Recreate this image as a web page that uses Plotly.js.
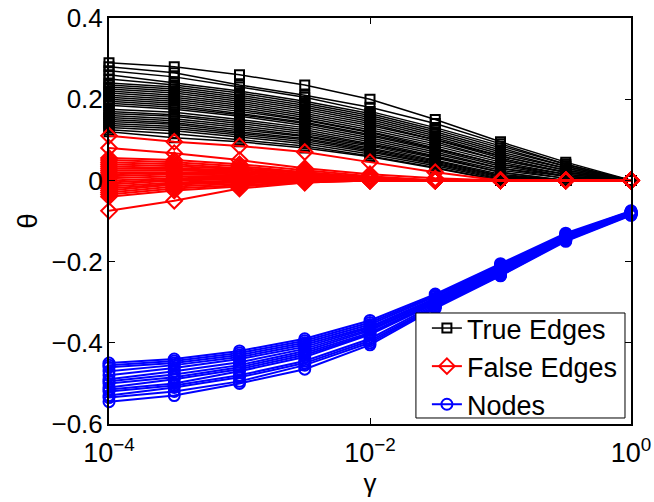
<!DOCTYPE html>
<html>
<head>
<meta charset="utf-8">
<script src="https://cdn.plot.ly/plotly-3.0.1.min.js"></script>
<style>html,body{margin:0;padding:0;background:#fff;}#chart{width:654px;height:502px;}</style>
</head>
<body>
<div id="chart"></div>
<script>
// gamma values (log-spaced, half decades)
var gamma = [1e-4, 3.1623e-4, 1e-3, 3.1623e-3, 1e-2, 3.1623e-2, 1e-1, 3.1623e-1, 1];

var trueEdges = [
  [0.29, 0.28, 0.26, 0.235, 0.2, 0.15, 0.095, 0.045, 0],
  [0.28, 0.265, 0.235, 0.21, 0.18, 0.14, 0.09, 0.04, 0],
  [0.27, 0.255, 0.23, 0.205, 0.17, 0.13, 0.085, 0.04, 0],
  [0.26, 0.24, 0.22, 0.195, 0.165, 0.125, 0.08, 0.035, 0],
  [0.25, 0.235, 0.215, 0.19, 0.16, 0.12, 0.075, 0.035, 0],
  [0.24, 0.23, 0.21, 0.185, 0.155, 0.115, 0.07, 0.03, 0],
  [0.235, 0.225, 0.205, 0.18, 0.15, 0.11, 0.065, 0.03, 0],
  [0.23, 0.22, 0.2, 0.175, 0.145, 0.105, 0.06, 0.025, 0],
  [0.225, 0.215, 0.195, 0.17, 0.14, 0.1, 0.06, 0.025, 0],
  [0.22, 0.21, 0.19, 0.165, 0.135, 0.1, 0.055, 0.02, 0],
  [0.215, 0.205, 0.185, 0.16, 0.13, 0.095, 0.05, 0.02, 0],
  [0.21, 0.2, 0.18, 0.155, 0.125, 0.09, 0.05, 0.02, 0],
  [0.205, 0.195, 0.175, 0.15, 0.12, 0.085, 0.045, 0.015, 0],
  [0.2, 0.19, 0.17, 0.148, 0.118, 0.08, 0.04, 0.015, 0],
  [0.195, 0.185, 0.165, 0.143, 0.113, 0.078, 0.04, 0.01, 0],
  [0.19, 0.18, 0.162, 0.14, 0.11, 0.075, 0.035, 0.01, 0],
  [0.185, 0.175, 0.158, 0.135, 0.105, 0.07, 0.03, 0.01, 0],
  [0.175, 0.168, 0.15, 0.13, 0.1, 0.065, 0.03, 0.005, 0],
  [0.17, 0.162, 0.145, 0.125, 0.095, 0.06, 0.025, 0.005, 0],
  [0.165, 0.158, 0.14, 0.12, 0.09, 0.058, 0.02, 0, 0],
  [0.16, 0.152, 0.135, 0.115, 0.088, 0.055, 0.02, 0, 0],
  [0.155, 0.147, 0.13, 0.11, 0.085, 0.05, 0.015, 0, 0],
  [0.15, 0.142, 0.125, 0.108, 0.08, 0.048, 0.012, 0, 0],
  [0.145, 0.138, 0.12, 0.103, 0.077, 0.045, 0.01, 0, 0],
  [0.14, 0.133, 0.116, 0.1, 0.073, 0.042, 0.008, 0, 0],
  [0.135, 0.128, 0.112, 0.095, 0.07, 0.04, 0.005, 0, 0],
  [0.13, 0.122, 0.107, 0.09, 0.065, 0.036, 0.003, 0, 0],
  [0.125, 0.115, 0.1, 0.085, 0.06, 0.032, 0, 0, 0],
  [0.12, 0.105, 0.095, 0.08, 0.058, 0.03, 0, 0, 0]
];

var falseEdges = [
  [0.11, 0.095, 0.085, 0.07, 0.045, 0.02, 0, 0, 0],
  [0.08, 0.067, 0.05, 0.03, 0.015, 0.005, 0, 0, 0],
  [0.055, 0.05, 0.04, 0.025, 0.01, 0, 0, 0, 0],
  [0.05, 0.045, 0.035, 0.02, 0.008, 0, 0, 0, 0],
  [0.045, 0.04, 0.03, 0.02, 0.005, 0, 0, 0, 0],
  [0.04, 0.035, 0.028, 0.018, 0.005, 0, 0, 0, 0],
  [0.035, 0.03, 0.025, 0.015, 0.004, 0, 0, 0, 0],
  [0.03, 0.028, 0.022, 0.013, 0.003, 0, 0, 0, 0],
  [0.025, 0.025, 0.02, 0.012, 0.002, 0, 0, 0, 0],
  [0.02, 0.02, 0.018, 0.01, 0.002, 0, 0, 0, 0],
  [0.015, 0.018, 0.015, 0.008, 0, 0, 0, 0, 0],
  [0.01, 0.015, 0.012, 0.006, 0, 0, 0, 0, 0],
  [0.005, 0.01, 0.01, 0.005, 0, 0, 0, 0, 0],
  [0, 0.005, 0.008, 0.004, 0, 0, 0, 0, 0],
  [-0.005, 0.002, 0.005, 0.003, 0, 0, 0, 0, 0],
  [-0.01, 0, 0.003, 0.002, 0, 0, 0, 0, 0],
  [-0.015, -0.005, 0, 0.001, 0, 0, 0, 0, 0],
  [-0.02, -0.008, -0.003, 0, 0, 0, 0, 0, 0],
  [-0.025, -0.01, -0.005, 0, 0, 0, 0, 0, 0],
  [-0.03, -0.015, -0.008, -0.002, 0, 0, 0, 0, 0],
  [-0.035, -0.02, -0.012, -0.003, 0, 0, 0, 0, 0],
  [-0.04, -0.025, -0.015, -0.005, 0, 0, 0, 0, 0],
  [-0.075, -0.05, -0.02, -0.005, 0, 0, 0, 0, 0]
];

var nodes = [
  [-0.45, -0.44, -0.42, -0.39, -0.345, -0.28, -0.205, -0.13, -0.075],
  [-0.455, -0.445, -0.425, -0.395, -0.35, -0.283, -0.208, -0.133, -0.076],
  [-0.46, -0.45, -0.43, -0.4, -0.355, -0.286, -0.21, -0.135, -0.077],
  [-0.47, -0.455, -0.435, -0.405, -0.36, -0.29, -0.212, -0.137, -0.078],
  [-0.48, -0.462, -0.44, -0.41, -0.363, -0.292, -0.215, -0.138, -0.079],
  [-0.49, -0.47, -0.448, -0.415, -0.367, -0.295, -0.218, -0.14, -0.08],
  [-0.495, -0.478, -0.455, -0.42, -0.37, -0.297, -0.22, -0.141, -0.08],
  [-0.5, -0.485, -0.46, -0.425, -0.375, -0.3, -0.222, -0.142, -0.081],
  [-0.51, -0.49, -0.465, -0.43, -0.378, -0.302, -0.225, -0.143, -0.082],
  [-0.515, -0.5, -0.47, -0.435, -0.38, -0.303, -0.227, -0.144, -0.082],
  [-0.52, -0.505, -0.48, -0.445, -0.39, -0.306, -0.23, -0.146, -0.083],
  [-0.53, -0.51, -0.485, -0.45, -0.395, -0.31, -0.232, -0.147, -0.084],
  [-0.535, -0.52, -0.495, -0.455, -0.4, -0.312, -0.234, -0.148, -0.085],
  [-0.545, -0.53, -0.5, -0.465, -0.405, -0.315, -0.235, -0.15, -0.086]
];

var seriesNames = ['True Edges', 'False Edges', 'Nodes'];
var xTickVals = [1e-4, 1e-2, 1];
var xTickText = ['10<sup>\u22124</sup>', '10<sup>\u22122</sup>', '10<sup>0</sup>'];

var groups = [
  {data: trueEdges, color: '#000000', symbol: 'square-open', size: 9, width: 1.5},
  {data: falseEdges, color: '#ff0000', symbol: 'diamond-open', size: 12, width: 2},
  {data: nodes, color: '#0000ff', symbol: 'circle-open', size: 11, width: 2}
];

var traces = [];
groups.forEach(function (g, gi) {
  g.data.forEach(function (ys, i) {
    traces.push({
      x: gamma, y: ys, type: 'scatter', mode: 'lines+markers',
      name: seriesNames[gi], showlegend: i === 0,
      line: {color: g.color, width: g.width},
      marker: {symbol: g.symbol, size: g.size, color: g.color, line: {color: g.color, width: 2}},
      cliponaxis: false, hoverinfo: 'skip'
    });
  });
});

var fam = 'Liberation Sans, Arial, sans-serif';
var font = {family: fam, color: '#000', size: 26};

var layout = {
  width: 654, height: 502,
  margin: {l: 109, r: 23, t: 18, b: 78, pad: 0},
  paper_bgcolor: '#fff', plot_bgcolor: '#fff',
  font: font,
  showlegend: true,
  xaxis: {
    type: 'log', range: [-4, 0],
    tickvals: xTickVals, ticktext: xTickText,
    ticks: 'inside', ticklen: 6, tickwidth: 1, tickcolor: '#000',
    ticklabelstandoff: 4,
    showline: true, linecolor: '#000', linewidth: 2, mirror: 'ticks',
    showgrid: false, zeroline: false,
    tickfont: {family: fam, color: '#000', size: 27},
    title: {text: '\u03b3', font: font, standoff: 0}
  },
  yaxis: {
    range: [-0.6, 0.4], dtick: 0.2, tick0: 0,
    ticks: 'inside', ticklen: 6, tickwidth: 1, tickcolor: '#000',
    ticklabelstandoff: -1,
    showline: true, linecolor: '#000', linewidth: 2, mirror: 'ticks',
    showgrid: false, zeroline: false,
    tickfont: font,
    title: {text: '\u03b8', font: {family: fam, color: '#000', size: 28}, standoff: 6}
  },
  // legend frame (box drawn as a shape so its size matches the reference)
  shapes: [{
    type: 'rect', xref: 'paper', yref: 'paper', layer: 'above',
    x0: 0.588, x1: 0.9885, y0: 0.0148, y1: 0.2734,
    fillcolor: '#fff', line: {color: '#000', width: 1}
  }],
  legend: {
    x: 0.609, y: 0.2956, xanchor: 'left', yanchor: 'top',
    bgcolor: 'rgba(0,0,0,0)', borderwidth: 0,
    font: {family: fam, color: '#000', size: 27}
  }
};

Plotly.newPlot('chart', traces, layout, {staticPlot: true, displayModeBar: false});
</script>
</body>
</html>
